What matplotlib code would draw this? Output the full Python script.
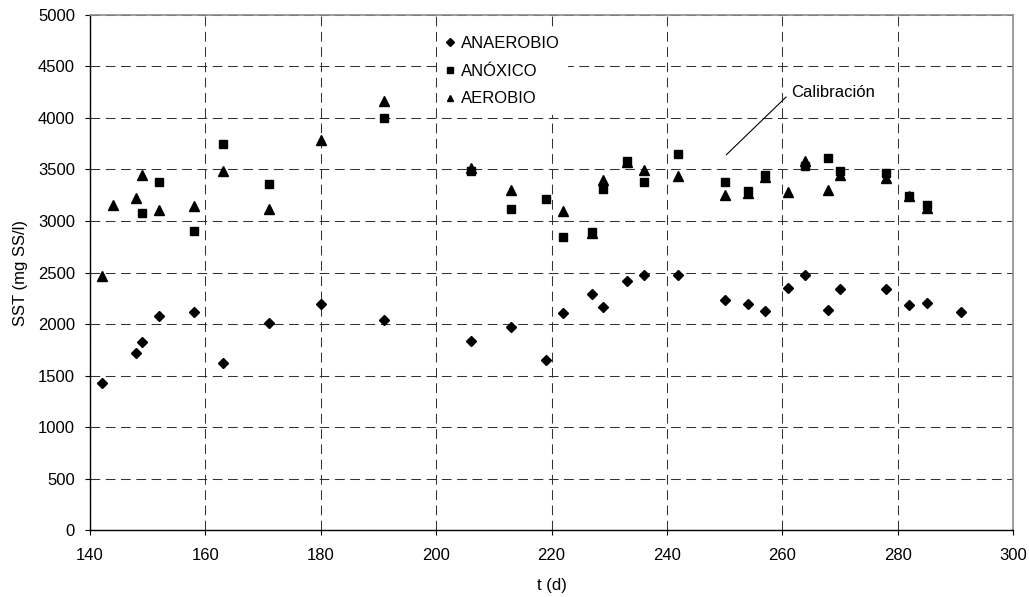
import matplotlib
matplotlib.use("Agg")
import matplotlib.pyplot as plt

plt.rcParams['font.family'] = ['Liberation Sans', 'DejaVu Sans']
plt.rcParams['lines.scale_dashes'] = False

# ---- data ----
t_anaer = [142, 148, 149, 152, 158, 163, 171, 180, 191, 206, 213, 219, 222, 227, 229,
           233, 236, 242, 250, 254, 257, 261, 264, 268, 270, 278, 282, 285, 291]
sst_anaer = [1425, 1717, 1824, 2080, 2116, 1623, 2009, 2197, 2035, 1837, 1973, 1649, 2106, 2291, 2161,
             2420, 2479, 2479, 2232, 2197, 2128, 2346, 2479, 2138, 2339, 2339, 2187, 2200, 2116]

t_anox = [149, 152, 158, 163, 171, 191, 206, 213, 219, 222, 227, 229, 233, 236, 242,
          250, 254, 257, 264, 268, 270, 278, 282, 285]
sst_anox = [3079, 3383, 2904, 3747, 3361, 4000, 3481, 3118, 3212, 2848, 2897, 3315, 3585, 3374, 3653,
            3374, 3290, 3445, 3530, 3607, 3484, 3465, 3238, 3157]

t_aer = [142, 144, 148, 149, 152, 158, 163, 171, 180, 191, 206, 213, 222, 227, 229, 233, 236, 242,
         250, 254, 257, 261, 264, 268, 270, 278, 282, 285]
sst_aer = [2470, 3157, 3228, 3445, 3111, 3144, 3484, 3121, 3786, 4168, 3514, 3305, 3098, 2880, 3400, 3570,
           3494, 3436, 3257, 3267, 3430, 3283, 3578, 3300, 3450, 3416, 3240, 3124]

xticks = list(range(140, 301, 20))
yticks = list(range(0, 5001, 500))

fig = plt.figure(figsize=(10.29, 5.97), dpi=100)
ax = fig.add_axes([0.0875, 0.112, 0.897, 0.863])

ax.plot(t_anaer, sst_anaer, 'D', color='black', ms=5, label='ANAEROBIO', zorder=3)
ax.plot(t_anox, sst_anox, 's', color='black', ms=5.5, label='ANÓXICO', zorder=3)
ax.plot(t_aer, sst_aer, '^', color='black', ms=6.5, label='AEROBIO', zorder=3)

ax.set_xlim(140, 300)
ax.set_ylim(0, 5000)
ax.set_xticks(xticks)
ax.set_yticks(yticks)
ax.tick_params(direction='out', length=3.8, width=0.8, labelsize=12, colors='black')
ax.tick_params(axis='x', pad=9)
ax.tick_params(axis='y', pad=7)
ax.grid(True, color='#333333', linestyle=(0, (7, 4)), linewidth=0.75)
ax.set_axisbelow(True)

for s in ['top', 'right']:
    ax.spines[s].set_color('#8c8c8c')
    ax.spines[s].set_linewidth(1.2)
for s in ['left', 'bottom']:
    ax.spines[s].set_color('black')
    ax.spines[s].set_linewidth(1)

ax.set_xlabel('t (d)', fontsize=12, labelpad=11)
ax.set_ylabel('SST (mg SS/l)', fontsize=12, labelpad=7)

leg = ax.legend(loc='upper left', bbox_to_anchor=(0.376, 0.975), frameon=True,
                fontsize=12, handlelength=0.6, handletextpad=0.35, labelspacing=0.76,
                markerscale=0.75, borderaxespad=0, borderpad=0.5, fancybox=False)
leg.get_frame().set_facecolor('white')
leg.get_frame().set_edgecolor('none')
leg.get_frame().set_alpha(1)

ax.annotate('Calibración', xy=(250.3, 3643), xytext=(261.5, 4249),
            fontsize=12, va='center', ha='left',
            arrowprops=dict(arrowstyle='-', color='black', lw=0.8,
                            shrinkA=2, shrinkB=0,
                            relpos=(0, 0.5)))

fig.savefig('out.png', dpi=100)
